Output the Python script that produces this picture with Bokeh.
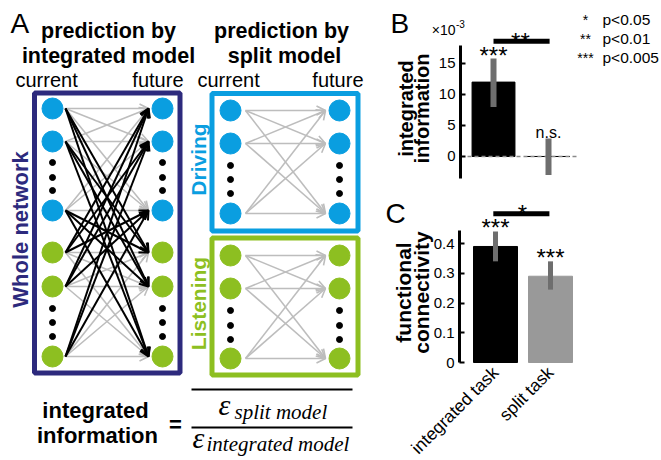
from math import pi
from bokeh.plotting import figure
from bokeh.models import Range1d, ColumnDataSource, Arrow, OpenHead, FixedTicker, LinearAxis
from bokeh.core.properties import value
from bokeh.embed import file_html
from bokeh.resources import INLINE

# ---------------- data ----------------
conditions = ["integrated", "split"]
ii_mean = [12.0, 0.0]          # integrated information (x10^-3)
ii_low = [8.0, -3.0]
ii_high = [15.8, 2.9]
ii_marks = ["***", "n.s."]
ii_ticks = [0, 5, 10, 15]
ii_pair_mark = "**"

tasks = ["integrated task", "split task"]
fc_mean = [0.39, 0.29]         # functional connectivity
fc_low = [0.34, 0.245]
fc_high = [0.44, 0.34]
fc_marks = ["***", "***"]
fc_ticks = [0, 0.1, 0.2, 0.3, 0.4]
fc_pair_mark = "*"

legend_marks = ["*", "**", "***"]
legend_texts = ["p<0.05", "p<0.01", "p<0.005"]

# ---------------- styles ----------------
PURPLE = "#2d2a7d"
BLUE = "#0a9ee0"
GREEN = "#8dbf21"
ARROW_GRAY = "#bdbdbd"
ERR = "#6e6e6e"
FONT = "Liberation Sans"
SERIF = "Liberation Serif"

# one canvas; default ranges are page pixels (y downwards)
p = figure(width=661, height=460, x_range=Range1d(0, 661), y_range=Range1d(460, 0),
           toolbar_location=None, output_backend="svg", min_border=0,
           x_axis_location=None, y_axis_location=None)
p.grid.visible = False
p.outline_line_color = None
p.extra_x_ranges = {"bx": Range1d(-7.964, 4.0545), "cx": Range1d(-8.0, 4.018)}
p.extra_y_ranges = {"by": Range1d(-49.03, 25.16), "cy": Range1d(-0.3294, 1.2168)}


def txt(x, y, s, size, color="black", style="normal", align="left",
        angle=0, font=FONT, xr="default", yr="default"):
    # y is the vertical centre of the text line
    p.text(x=[x], y=[y], text=[s], text_font=value(font), text_font_size=f"{size}px",
           text_font_style=style, text_color=color, text_align=align,
           text_baseline="middle", angle=angle, x_range_name=xr, y_range_name=yr)


def btxt(x, base, s, size, **kw):
    # place by baseline (page pixels)
    txt(x, base - 0.35 * size, s, size, **kw)

# ================= Panel A (diagram) =================
btxt(10, 33, "A", 28)
btxt(108, 38, "prediction by", 21.5, style="bold", align="center")
btxt(108, 63, "integrated model", 21.5, style="bold", align="center")
btxt(281, 38, "prediction by", 21.5, style="bold", align="center")
btxt(284, 63, "split model", 21.5, style="bold", align="center")
btxt(15, 86, "current", 20)
btxt(183, 86, "future", 20, align="right")
btxt(197, 86, "current", 20)
btxt(363, 86, "future", 20, align="right")

p.quad(left=[34], right=[179.5], top=[92.5], bottom=[372.5], fill_color=None,
       line_color=PURPLE, line_width=5)
p.quad(left=[211.5], right=[357.5], top=[93], bottom=[230.5], fill_color=None,
       line_color=BLUE, line_width=5)
p.quad(left=[211.5], right=[357.5], top=[237.5], bottom=[374.5], fill_color=None,
       line_color=GREEN, line_width=5)

txt(20, 229, "Whole network", 22, color=PURPLE, style="bold", align="center", angle=pi / 2)
txt(198, 159, "Driving", 21, color=BLUE, style="bold", align="center", angle=pi / 2)
txt(198, 303, "Listening", 21, color=GREEN, style="bold", align="center", angle=pi / 2)


def add_arrows(pairs, x0, x1, color, lw, size):
    src = ColumnDataSource(dict(x0=[x0] * len(pairs), y0=[a for a, b in pairs],
                                x1=[x1] * len(pairs), y1=[b for a, b in pairs]))
    p.add_layout(Arrow(end=OpenHead(size=size, line_color=color, line_width=lw),
                       source=src, x_start="x0", y_start="y0", x_end="x1", y_end="y1",
                       line_color=color, line_width=lw))


def network(cx, fx, ax0, ax1, blue_y, blue_dots, green_y, green_dots, cross):
    for col in (cx, fx):
        p.scatter([col] * 3, blue_y, size=21, color=BLUE)
        p.scatter([col] * 3, green_y, size=21, color=GREEN)
        p.scatter([col] * 3, blue_dots, size=6, color="black")
        p.scatter([col] * 3, green_dots, size=6, color="black")
    within = [(a, b) for a in blue_y for b in blue_y] + [(a, b) for a in green_y for b in green_y]
    add_arrows(within, ax0, ax1, ARROW_GRAY, 1.6, 9)
    if cross:
        crossp = [(a, b) for a in blue_y for b in green_y] + [(a, b) for a in green_y for b in blue_y]
        add_arrows(crossp, ax0, ax1, "black", 2, 9)


network(52, 162, 65, 148, [108, 141, 210], [162, 177, 190], [252, 286, 356], [308, 322, 336], True)
network(230, 339, 245, 325, [110, 143, 213], [165, 179, 193], [255, 288, 358], [310, 325, 339], False)

# formula
btxt(95, 418, "integrated", 22, style="bold", align="center")
btxt(97, 443, "information", 22, style="bold", align="center")
txt(175, 424, "=", 22, style="bold", align="center")
p.segment(x0=[191, 191], y0=[389, 427], x1=[352, 352], y1=[389, 427], line_color="black", line_width=2)
btxt(218, 414, "\u03b5", 30, style="italic", font=SERIF)
btxt(234, 419, "split model", 21, style="italic", font=SERIF)
btxt(192, 447, "\u03b5", 30, style="italic", font=SERIF)
btxt(206, 451, "integrated model", 21, style="italic", font=SERIF)

# ================= Panel B =================
xb = [1, 2]


def style_axis(ax, ticks, bounds):
    ax.ticker = FixedTicker(ticks=ticks)
    ax.bounds = bounds
    ax.axis_line_width = 3
    ax.major_tick_in = 5
    ax.major_tick_out = 0
    ax.major_tick_line_width = 2
    ax.minor_tick_line_color = None
    ax.major_label_text_font = FONT
    ax.major_label_text_font_size = "15px"
    ax.major_label_text_color = "black"
    ax.major_label_standoff = 5


ayB = LinearAxis(x_range_name="bx", y_range_name="by", fixed_location=0.4)
style_axis(ayB, ii_ticks, (-3.55, 17.9))
p.add_layout(ayB, "left")

p.vbar(x=xb, top=ii_mean, bottom=0, width=0.78, color="black", x_range_name="bx", y_range_name="by")
p.segment(x0=[0.527], y0=[0], x1=[2.545], y1=[0], line_color="#8a8a8a", line_width=1.5,
          line_dash="4 3", x_range_name="bx", y_range_name="by")
p.segment(x0=xb, y0=ii_low, x1=xb, y1=ii_high, line_color=ERR, line_width=6,
          x_range_name="bx", y_range_name="by")
p.segment(x0=[1.0], y0=[18.6], x1=[2.02], y1=[18.6], line_color="black", line_width=5,
          x_range_name="bx", y_range_name="by")

txt(1.0, ii_high[0] + 0.5, ii_marks[0], 24, align="center", xr="bx", yr="by")
txt(2.0, ii_high[1] + 0.9, ii_marks[1], 16, align="center", xr="bx", yr="by")
txt(1.49, 18.6, ii_pair_mark, 24, align="center", xr="bx", yr="by")

btxt(390, 33, "B", 28)
txt(405, 108, "integrated", 20, style="bold", align="center", angle=pi / 2)
txt(421, 108, "information", 20, style="bold", align="center", angle=pi / 2)
btxt(455, 34, "\u00d710", 14, align="right")
btxt(455.5, 27, "-3", 10)
for i, (m, t) in enumerate(zip(legend_marks, legend_texts)):
    yy = 24 + i * 19
    btxt(585, yy, m, 14, align="center")
    btxt(602, yy, t, 15.5)

# ================= Panel C =================
ayC = LinearAxis(x_range_name="cx", y_range_name="cy", fixed_location=0.3455)
style_axis(ayC, fc_ticks, (0, 0.445))
ayC.formatter.use_scientific = False
p.add_layout(ayC, "left")

axC = LinearAxis(x_range_name="cx", y_range_name="cy", fixed_location=0.0)
axC.ticker = FixedTicker(ticks=xb)
axC.major_label_overrides = dict(zip(xb, tasks))
axC.major_label_orientation = pi / 4
axC.axis_line_color = None
axC.major_tick_line_color = None
axC.minor_tick_line_color = None
axC.major_label_text_font = FONT
axC.major_label_text_font_size = "17.5px"
axC.major_label_text_color = "black"
axC.major_label_standoff = 1
p.add_layout(axC, "below")

p.vbar(x=xb, top=fc_mean, bottom=0, width=0.8, color=["black", "#999999"],
       x_range_name="cx", y_range_name="cy")
p.segment(x0=xb, y0=fc_low, x1=xb, y1=fc_high, line_color=ERR, line_width=5,
          x_range_name="cx", y_range_name="cy")
p.segment(x0=[0.96], y0=[0.5], x1=[1.98], y1=[0.5], line_color="black", line_width=5,
          x_range_name="cx", y_range_name="cy")
txt(1.49, 0.5, fc_pair_mark, 24, align="center", xr="cx", yr="cy")
for x, hi, m in zip(xb, fc_high, fc_marks):
    txt(x, hi + 0.013, m, 24, align="center", xr="cx", yr="cy")

btxt(385, 223, "C", 28)
txt(403, 292, "functional", 21, style="bold", align="center", angle=pi / 2)
txt(421, 292, "connectivity", 21, style="bold", align="center", angle=pi / 2)

open("out.html", "w").write(file_html(p, INLINE))
